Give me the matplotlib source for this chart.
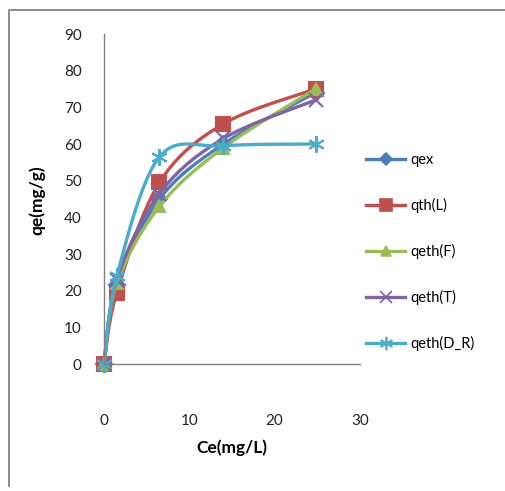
import numpy as np
import matplotlib.pyplot as plt
from matplotlib.lines import Line2D

# Equilibrium concentration and uptake, experimental vs isotherm models
ce = [0, 1.5, 6.5, 14.0, 24.8]
q_ex = [0, 21.5, 45.0, 60.0, 74.0]
q_lang = [0, 19.5, 49.5, 65.5, 75.0]
q_freund = [0, 22.0, 43.0, 59.0, 75.0]
q_temkin = [0, 23.0, 46.5, 61.5, 72.0]
q_dr = [0, 24.0, 56.5, 59.5, 60.0]

labels = ['qex', 'qth(L)', 'qeth(F)', 'qeth(T)', 'qeth(D_R)']
colors = ['#4A7EBB', '#C0504D', '#9BBB59', '#8064A2', '#4BACC6']
markers = ['D', 's', '^', 'x', (6, 2, 0)]
msizes = [8, 10, 9, 10, 12]

plt.rcParams['font.family'] = ['Lato', 'DejaVu Sans']


def smooth(x, y, n=40):
    # cubic bezier through the points, excel-style smoothing
    p = np.column_stack([x, y]).astype(float)
    ext = np.vstack([p[0], p, p[-1]])
    out = []
    for i in range(len(p) - 1):
        p0, p1, p2, p3 = ext[i], ext[i + 1], ext[i + 2], ext[i + 3]
        c1 = p1 + (p2 - p0) / 6
        c2 = p2 - (p3 - p1) / 6
        t = np.linspace(0, 1, n)[:, None]
        seg = ((1 - t) ** 3) * p1 + 3 * ((1 - t) ** 2) * t * c1 + 3 * (1 - t) * t ** 2 * c2 + t ** 3 * p2
        out.append(seg if i == 0 else seg[1:])
    seg = np.vstack(out)
    return seg[:, 0], seg[:, 1]


fig = plt.figure(figsize=(5.05, 4.91), dpi=100)
ax = fig.add_axes([104 / 505, 1 - 364 / 491, 256 / 505, 330 / 491])

series = [q_ex, q_lang, q_freund, q_temkin, q_dr]
for ys, lab, col, mk, ms in zip(series, labels, colors, markers, msizes):
    sx, sy = smooth(ce, ys)
    ax.plot(sx, sy, color=col, lw=2.4, solid_capstyle='round', clip_on=False)
    ax.plot(ce, ys, ls='none', marker=mk, ms=ms, color=col, mec=col, mew=1.5,
            clip_on=False)

handles = [Line2D([], [], color=c, lw=2.4, marker=m, ms=s * 0.8, mec=c, mew=1.2)
           for c, m, s in zip(colors, markers, msizes)]
leg = ax.legend(handles, labels, loc='upper left', bbox_to_anchor=(0.995, 0.66),
                frameon=False, fontsize=10.5, handlelength=2.7, handletextpad=0.35,
                labelspacing=2.12, borderaxespad=0.1)

ax.set_xlim(0, 30)
ax.set_ylim(0, 90)
ax.set_xticks([0, 10, 20, 30])
ax.set_yticks(range(0, 91, 10))
ax.tick_params(length=0, labelsize=11, colors='#222222')
ax.tick_params(axis='x', pad=36)
ax.tick_params(axis='y', pad=16)
for side in ['top', 'right']:
    ax.spines[side].set_visible(False)
for side in ['left', 'bottom']:
    ax.spines[side].set_color('#808080')
    ax.spines[side].set_linewidth(1.0)
ax.patch.set_alpha(0)

fig.text(232 / 505, 1 - 448 / 491, 'Ce(mg/L)', ha='center', va='center',
         fontsize=12.5, fontweight='bold')
fig.text(37 / 505, 1 - 200 / 491, 'qe(mg/g)', ha='center', va='center',
         fontsize=12.5, fontweight='bold', rotation=90)

# outer chart frame
fig.add_artist(Line2D([9 / 505, 9 / 505, 1.0], [1 - 486 / 491, 1 - 10 / 491, 1 - 10 / 491],
                      transform=fig.transFigure, color='#8c8c8c', lw=1.4))

fig.savefig('out.png', dpi=100)
